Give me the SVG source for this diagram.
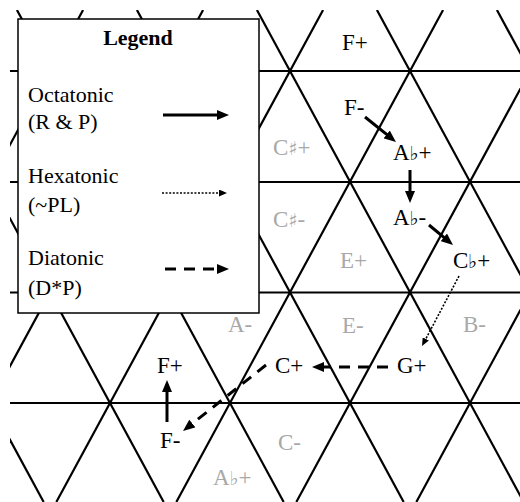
<svg xmlns="http://www.w3.org/2000/svg" width="520" height="502" viewBox="0 0 520 502">
<style>
.grid line{stroke:#000;stroke-width:2.2}
text{font-family:"Liberation Serif","DejaVu Serif",serif;font-size:22px;fill:#000}
.lb{font-size:23px}
.g{fill:#a8a8a8}
.acc{font-family:"DejaVu Serif","Liberation Serif",serif;font-size:19px}
.solid{stroke:#000;stroke-width:3;fill:none}
.dash{stroke:#000;stroke-width:3;fill:none;stroke-dasharray:11 8}
.dot{stroke:#000;stroke-width:1.6;fill:none;stroke-dasharray:2 1.6}
</style>
<defs>
<clipPath id="clip"><rect x="10" y="10" width="510" height="492"/></clipPath>
<marker id="ah" markerUnits="userSpaceOnUse" markerWidth="12" markerHeight="10" refX="6" refY="5" orient="auto"><path d="M0,0 L12,5 L0,10 z" fill="#000"/></marker>
<marker id="ahs" markerUnits="userSpaceOnUse" markerWidth="8" markerHeight="7" refX="4" refY="3.5" orient="auto"><path d="M0,0 L8,3.5 L0,7 z" fill="#000"/></marker>
</defs>
<g id="grid" class="grid" clip-path="url(#clip)">
<line x1="10" y1="71" x2="520" y2="71"/>
<line x1="10" y1="182" x2="520" y2="182"/>
<line x1="10" y1="292.5" x2="520" y2="292.5"/>
<line x1="10" y1="403" x2="520" y2="403"/>
<line x1="-223.07" y1="10" x2="43.67" y2="502"/>
<line x1="-103.07" y1="10" x2="163.67" y2="502"/>
<line x1="16.93" y1="10" x2="283.67" y2="502"/>
<line x1="136.93" y1="10" x2="403.67" y2="502"/>
<line x1="256.93" y1="10" x2="523.67" y2="502"/>
<line x1="376.93" y1="10" x2="643.67" y2="502"/>
<line x1="496.93" y1="10" x2="763.67" y2="502"/>
<line x1="83.07" y1="10" x2="-183.67" y2="502"/>
<line x1="203.07" y1="10" x2="-63.67" y2="502"/>
<line x1="323.07" y1="10" x2="56.33" y2="502"/>
<line x1="443.07" y1="10" x2="176.33" y2="502"/>
<line x1="563.07" y1="10" x2="296.33" y2="502"/>
<line x1="683.07" y1="10" x2="416.33" y2="502"/>
<line x1="803.07" y1="10" x2="536.33" y2="502"/>
</g>
<g id="labels-gray">
<text id="n-Csharp-plus" class="lb g" x="273" y="155">C<tspan class="acc g">♯</tspan>+</text>
<text id="n-Csharp-minus" class="lb g" x="273" y="227">C<tspan class="acc g">♯</tspan>-</text>
<text id="n-E-plus" class="lb g" x="340" y="268">E+</text>
<text id="n-A-minus" class="lb g" x="228" y="332">A-</text>
<text id="n-E-minus" class="lb g" x="342" y="333">E-</text>
<text id="n-B-minus" class="lb g" x="463" y="332">B-</text>
<text id="n-C-minus" class="lb g" x="278" y="450">C-</text>
<text id="n-Aflat-plus-g" class="lb g" x="213" y="485">A<tspan class="acc g">♭</tspan>+</text>
</g>
<g id="n-F-plus-top"><text class="lb" x="342" y="50">F+</text></g>
<g id="n-F-minus-top"><text class="lb" x="344" y="115">F-</text></g>
<g id="n-Aflat-plus"><text class="lb" x="393" y="160">A<tspan class="acc">♭</tspan>+</text></g>
<g id="n-Aflat-minus"><text class="lb" x="393" y="225">A<tspan class="acc">♭</tspan>-</text></g>
<g id="n-Cflat-plus"><text class="lb" x="453" y="268">C<tspan class="acc">♭</tspan>+</text></g>
<g id="n-G-plus"><text class="lb" x="397" y="373">G+</text></g>
<g id="n-C-plus"><text class="lb" x="275" y="373">C+</text></g>
<g id="n-F-plus-low"><text class="lb" x="157" y="373">F+</text></g>
<g id="n-F-minus-low"><text class="lb" x="160" y="448">F-</text></g>
<g id="connectors">
<line class="solid" x1="365" y1="117" x2="391.3" y2="138.2" marker-end="url(#ah)"/>
<line class="solid" x1="410" y1="170" x2="410" y2="197" marker-end="url(#ah)"/>
<line class="solid" x1="429" y1="225" x2="448.4" y2="241.2" marker-end="url(#ah)"/>
<line class="dot" x1="459" y1="276" x2="423.9" y2="342.5" marker-end="url(#ahs)"/>
<line class="dash" x1="388" y1="367" x2="318" y2="367" marker-end="url(#ah)"/>
<line class="dash" x1="266" y1="365" x2="187.7" y2="427.3" marker-end="url(#ah)"/>
<line class="solid" x1="167" y1="422" x2="167" y2="386" marker-end="url(#ah)"/>
</g>
<g id="legend">
<rect x="18" y="19" width="241" height="294" fill="#fff" stroke="#000" stroke-width="1.5"/>
<text x="138" y="45" text-anchor="middle" font-weight="bold">Legend</text>
<text x="28" y="102">Octatonic</text>
<text x="28" y="129">(R &amp; P)</text>
<line class="solid" x1="163" y1="115" x2="223" y2="115" marker-end="url(#ah)"/>
<text x="28" y="183">Hexatonic</text>
<text x="28" y="212">(~PL)</text>
<line class="dot" x1="162" y1="193" x2="223" y2="193" marker-end="url(#ahs)"/>
<text x="28" y="265">Diatonic</text>
<text x="28" y="295">(D*P)</text>
<line class="dash" x1="165" y1="269" x2="223" y2="269" marker-end="url(#ah)"/>
</g>
</svg>
